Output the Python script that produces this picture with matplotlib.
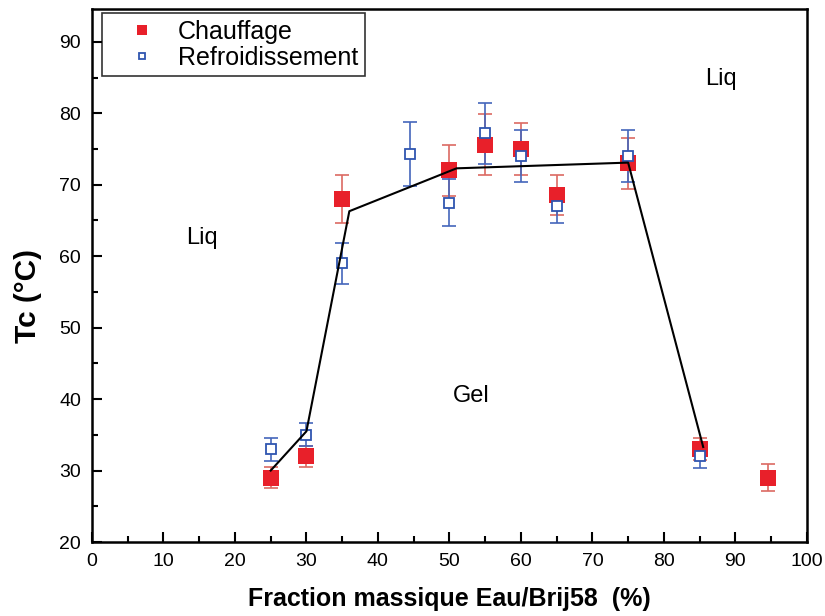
import numpy as np
import matplotlib.pyplot as plt
from matplotlib.ticker import MultipleLocator

plt.rcParams['font.family'] = ['Liberation Sans', 'DejaVu Sans']

# Chauffage (heating)
x_ch = [25, 30, 35, 50, 55, 60, 65, 75, 85, 94.5]
y_ch = [29, 32, 68, 72, 75.6, 75, 68.5, 73, 33, 29]
e_ch = [1.5, 1.5, 3.4, 3.6, 4.3, 3.7, 2.8, 3.6, 1.5, 1.9]

# Refroidissement (cooling)
x_re = [25, 30, 35, 44.5, 50, 55, 60, 65, 75, 85]
y_re = [33, 35, 59, 74.3, 67.5, 77.2, 74, 67, 74, 32]
e_re = [1.6, 1.6, 2.9, 4.5, 3.3, 4.3, 3.6, 2.4, 3.6, 1.7]

# phase boundary
x_line = [25, 30, 36, 51, 75, 85.5]
y_line = [30, 35.5, 66.3, 72.3, 73.1, 33.3]

red = '#e8202a'
blue = '#2f55b0'

fig = plt.figure(figsize=(8.25, 6.16), dpi=100)
ax = fig.add_axes([0.1115, 0.1201, 0.8665, 0.8653])

ax.errorbar(x_ch, y_ch, yerr=e_ch, fmt='none', ecolor='#dc6a62', elinewidth=1.2,
            capsize=5, capthick=1.2, zorder=2)
ax.errorbar(x_re, y_re, yerr=e_re, fmt='none', ecolor='#4466bb', elinewidth=1.2,
            capsize=5, capthick=1.2, zorder=2)
ax.plot(x_ch, y_ch, 's', color=red, markersize=11, markeredgewidth=0,
        label='Chauffage', zorder=3)
ax.plot(x_re, y_re, 's', mfc='white', mec=blue, markersize=7, markeredgewidth=1.3,
        label='Refroidissement', zorder=4)
ax.plot(x_line, y_line, '-', color='black', lw=1.5, zorder=5)

ax.text(15.4, 62.6, 'Liq', fontsize=17, ha='center', va='center')
ax.text(88, 84.8, 'Liq', fontsize=17, ha='center', va='center')
ax.text(53, 40.5, 'Gel', fontsize=17, ha='center', va='center')

ax.set_xlim(0, 100)
ax.set_ylim(20, 94.6)
ax.xaxis.set_major_locator(MultipleLocator(10))
ax.xaxis.set_minor_locator(MultipleLocator(5))
ax.yaxis.set_major_locator(MultipleLocator(10))
ax.yaxis.set_minor_locator(MultipleLocator(5))
ax.tick_params(which='major', direction='in', length=7, width=1.5, labelsize=14, pad=8)
ax.tick_params(which='minor', direction='in', length=4, width=1.5)
for s in ax.spines.values():
    s.set_linewidth(1.8)

ax.set_xlabel('Fraction massique Eau/Brij58  (%)', fontsize=18, fontweight='bold', labelpad=12)
ax.set_ylabel('Tc (°C)', fontsize=21.5, fontweight='bold')
ax.yaxis.set_label_coords(-0.07, 0.462)

leg = ax.legend(loc='upper left', bbox_to_anchor=(0.014, 0.992), borderaxespad=0,
                fontsize=18, fancybox=False, edgecolor='black', markerscale=0.65,
                borderpad=0.25, handletextpad=0.1, handlelength=2.7, labelspacing=0.1)
leg.get_frame().set_linewidth(1.2)

fig.savefig('out.png', dpi=100)
